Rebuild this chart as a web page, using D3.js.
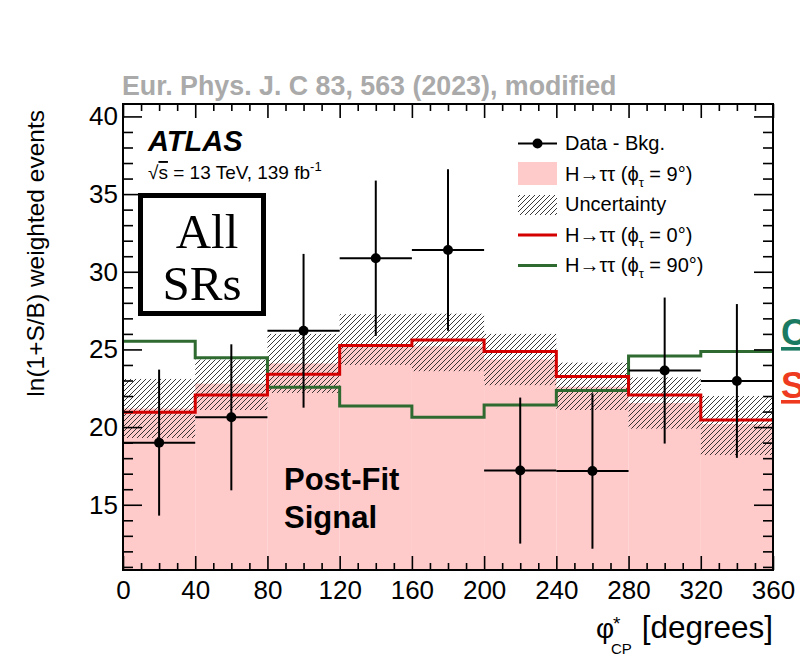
<!DOCTYPE html>
<html>
<head>
<meta charset="utf-8">
<script src="https://cdn.jsdelivr.net/npm/d3@7"></script>
<style>
  body { margin: 0; background: #fff; }
  text { font-family: "Liberation Sans", Arial, Helvetica, sans-serif; }
</style>
</head>
<body>
<script>
'use strict';

// bin edges and centres in phi*_CP (degrees)
let binEdges = [0, 40, 80, 120, 160, 200, 240, 280, 320, 360];
let binCentres = [20, 60, 100, 140, 180, 220, 260, 300, 340];

// post-fit signal (phi_tau = 9 deg), filled
let sigPhi9 = [21.2, 22.8, 24.1, 25.3, 25.2, 24.35, 22.6, 21.55, 20.2];
// uncertainty band
let uncLow = [19.3, 21.1, 22.2, 24.0, 23.6, 22.7, 21.1, 19.9, 18.2];
let uncHigh = [23.1, 24.35, 26.0, 27.27, 27.3, 26.0, 24.15, 23.2, 22.0];
// hypotheses
let sigPhi0 = [20.95, 22.07, 23.4, 25.25, 25.6, 24.86, 23.25, 22.07, 20.46];
let sigPhi90 = [25.53, 24.47, 22.56, 21.36, 20.63, 21.43, 22.35, 24.58, 24.86];
// data - background
let dataVals = [19.0, 20.63, 26.2, 30.87, 31.4, 17.2, 17.17, 23.64, 22.97];
let dataErr = [4.7, 4.7, 4.95, 5.0, 5.2, 4.7, 5.0, 4.7, 4.95];

// axis ticks
let xMajor = [0, 40, 80, 120, 160, 200, 240, 280, 320, 360];
let yMajor = [15, 20, 25, 30, 35, 40];

let frame = { left: 123, right: 773, top: 104, bottom: 570 };

let svg = d3.select("body").append("svg")
  .attr("width", 800)
  .attr("height", 657);

let x = d3.scaleLinear().domain([0, 360]).range([frame.left, frame.right]);
let y = d3.scaleLinear().domain([10.8, 40.8]).range([frame.bottom, frame.top]);

// hatch pattern
let defs = svg.append("defs");
let pat = defs.append("pattern")
  .attr("id", "hatch")
  .attr("patternUnits", "userSpaceOnUse")
  .attr("width", 5).attr("height", 5);
pat.append("path")
  .attr("d", "M0,5 L5,0 M-1,1 L1,-1 M4,6 L6,4")
  .attr("stroke", "#222").attr("stroke-width", 0.9);

// step path helper
function stepPath(vals) {
  let d = "";
  vals.forEach((v, i) => {
    d += (i === 0 ? "M" : "L") + x(binEdges[i]) + "," + y(v) + "L" + x(binEdges[i + 1]) + "," + y(v);
  });
  return d;
}

// title
svg.append("text")
  .attr("x", 122).attr("y", 95)
  .style("font-size", "26.8px").style("font-weight", "bold")
  .attr("fill", "#aaaaaa")
  .text("Eur. Phys. J. C 83, 563 (2023), modified");

// pink filled signal
svg.selectAll(".sig9").data(sigPhi9).enter().append("rect")
  .attr("x", (d, i) => x(binEdges[i]))
  .attr("width", (d, i) => x(binEdges[i + 1]) - x(binEdges[i]))
  .attr("y", d => y(d))
  .attr("height", d => frame.bottom - y(d))
  .attr("fill", "#ffcaca");

// uncertainty hatch
svg.selectAll(".unc").data(uncLow).enter().append("rect")
  .attr("x", (d, i) => x(binEdges[i]))
  .attr("width", (d, i) => x(binEdges[i + 1]) - x(binEdges[i]))
  .attr("y", (d, i) => y(uncHigh[i]))
  .attr("height", (d, i) => y(d) - y(uncHigh[i]))
  .attr("fill", "url(#hatch)");

// hypotheses lines
svg.append("path").attr("d", stepPath(sigPhi90))
  .attr("fill", "none").attr("stroke", "#2f6a31").attr("stroke-width", 3);
svg.append("path").attr("d", stepPath(sigPhi0))
  .attr("fill", "none").attr("stroke", "#d40000").attr("stroke-width", 3);

// data points
let pts = svg.append("g");
binCentres.forEach((c, i) => {
  pts.append("line")
    .attr("x1", x(binEdges[i])).attr("x2", x(binEdges[i + 1]))
    .attr("y1", y(dataVals[i])).attr("y2", y(dataVals[i]))
    .attr("stroke", "#000").attr("stroke-width", 2);
  pts.append("line")
    .attr("x1", x(c)).attr("x2", x(c))
    .attr("y1", y(dataVals[i] - dataErr[i])).attr("y2", y(dataVals[i] + dataErr[i]))
    .attr("stroke", "#000").attr("stroke-width", 2);
  pts.append("circle")
    .attr("cx", x(c)).attr("cy", y(dataVals[i])).attr("r", 5)
    .attr("fill", "#000");
});

// axes (ticks inward)
function styleAxis(g) {
  g.select(".domain").remove();
  g.selectAll("line").attr("stroke", "#000").attr("stroke-width", 1.6);
  g.selectAll("text").style("font-size", "26px").attr("fill", "#000")
    .style("font-family", "'Liberation Sans', Arial, sans-serif");
}
let xMinor = d3.range(0, 361, 10).filter(v => xMajor.indexOf(v) < 0);
let yMinor = d3.range(11, 41, 1).filter(v => yMajor.indexOf(v) < 0);

svg.append("g").attr("transform", "translate(0," + frame.bottom + ")")
  .call(d3.axisBottom(x).tickValues(xMajor).tickSize(-14).tickPadding(11).tickFormat(d3.format("d")))
  .call(styleAxis);
svg.append("g").attr("transform", "translate(0," + frame.bottom + ")")
  .call(d3.axisBottom(x).tickValues(xMinor).tickSize(-7).tickFormat(""))
  .call(styleAxis);
svg.append("g").attr("transform", "translate(0," + frame.top + ")")
  .call(d3.axisTop(x).tickValues(xMajor).tickSize(-14).tickFormat(""))
  .call(styleAxis);
svg.append("g").attr("transform", "translate(0," + frame.top + ")")
  .call(d3.axisTop(x).tickValues(xMinor).tickSize(-7).tickFormat(""))
  .call(styleAxis);

svg.append("g").attr("transform", "translate(" + frame.left + ",0)")
  .call(d3.axisLeft(y).tickValues(yMajor).tickSize(-19).tickPadding(5).tickFormat(d3.format("d")))
  .call(styleAxis);
svg.append("g").attr("transform", "translate(" + frame.left + ",0)")
  .call(d3.axisLeft(y).tickValues(yMinor).tickSize(-10).tickFormat(""))
  .call(styleAxis);
svg.append("g").attr("transform", "translate(" + frame.right + ",0)")
  .call(d3.axisRight(y).tickValues(yMajor).tickSize(-19).tickFormat(""))
  .call(styleAxis);
svg.append("g").attr("transform", "translate(" + frame.right + ",0)")
  .call(d3.axisRight(y).tickValues(yMinor).tickSize(-10).tickFormat(""))
  .call(styleAxis);

// frame
svg.append("rect")
  .attr("x", frame.left).attr("y", frame.top)
  .attr("width", frame.right - frame.left).attr("height", frame.bottom - frame.top)
  .attr("fill", "none").attr("stroke", "#000").attr("stroke-width", 2);

// axis titles
svg.append("text")
  .attr("transform", "translate(44,110) rotate(-90)")
  .style("text-anchor", "end").style("font-size", "24.5px")
  .text("ln(1+S/B) weighted events");

svg.append("text").attr("x", frame.right).attr("y", 638)
  .style("text-anchor", "end").style("font-size", "31.5px").text("[degrees]");
svg.append("text").attr("x", 596).attr("y", 638)
  .style("font-size", "28px").text("φ");
svg.append("text").attr("x", 613).attr("y", 630)
  .style("font-size", "19px").text("*");
svg.append("text").attr("x", 611).attr("y", 654)
  .style("font-size", "15px").text("CP");

// ATLAS label
svg.append("text").attr("x", 148).attr("y", 151)
  .style("font-size", "29px").style("font-weight", "bold").style("font-style", "italic")
  .text("ATLAS");
let lum = svg.append("text").attr("x", 148).attr("y", 179).style("font-size", "19px");
lum.append("tspan").text("√");
lum.append("tspan").style("text-decoration", "overline").text("s");
lum.append("tspan").text(" = 13 TeV, 139 fb");
lum.append("tspan").attr("dy", -8).style("font-size", "13px").text("-1");

// All SRs box
svg.append("rect")
  .attr("x", 140.5).attr("y", 195.5).attr("width", 123).attr("height", 118)
  .attr("fill", "#fff").attr("stroke", "#000").attr("stroke-width", 5);
svg.append("text").attr("x", 207).attr("y", 248)
  .style("text-anchor", "middle").style("font-family", "'Liberation Serif', 'Times New Roman', serif")
  .style("font-size", "49px").text("All");
svg.append("text").attr("x", 202).attr("y", 300)
  .style("text-anchor", "middle").style("font-family", "'Liberation Serif', 'Times New Roman', serif")
  .style("font-size", "49px").text("SRs");

// Post-Fit Signal
svg.append("text").attr("x", 284).attr("y", 490)
  .style("font-size", "31px").style("font-weight", "bold").text("Post-Fit");
svg.append("text").attr("x", 284).attr("y", 528)
  .style("font-size", "31px").style("font-weight", "bold").text("Signal");

// legend
let lx0 = 518, lx1 = 557, ltx = 565;
svg.append("line").attr("x1", lx0).attr("x2", lx1).attr("y1", 143.5).attr("y2", 143.5)
  .attr("stroke", "#000").attr("stroke-width", 2);
svg.append("circle").attr("cx", (lx0 + lx1) / 2).attr("cy", 143.5).attr("r", 5).attr("fill", "#000");
svg.append("rect").attr("x", lx0).attr("y", 162).attr("width", lx1 - lx0).attr("height", 23).attr("fill", "#ffcaca");
svg.append("rect").attr("x", lx0).attr("y", 195).attr("width", lx1 - lx0).attr("height", 20).attr("fill", "url(#hatch)");
svg.append("line").attr("x1", lx0).attr("x2", lx1).attr("y1", 235).attr("y2", 235)
  .attr("stroke", "#d40000").attr("stroke-width", 3);
svg.append("line").attr("x1", lx0).attr("x2", lx1).attr("y1", 265.5).attr("y2", 265.5)
  .attr("stroke", "#2f6a31").attr("stroke-width", 3);

svg.append("text").attr("x", ltx).attr("y", 150).style("font-size", "20px").text("Data - Bkg.");
function hLabel(yy, ang) {
  let t = svg.append("text").attr("x", ltx).attr("y", yy).style("font-size", "20px");
  t.append("tspan").text("H→ττ (ϕ");
  t.append("tspan").attr("dy", 6).style("font-size", "13px").text("τ");
  t.append("tspan").attr("dy", -6).text(" = " + ang + "°)");
}
hLabel(181, 9);
svg.append("text").attr("x", ltx).attr("y", 211).style("font-size", "20px").text("Uncertainty");
hLabel(242, 0);
hLabel(272, 90);

// cut-off labels at the right edge (cropped in the source figure as well)
svg.append("text").attr("x", 781).attr("y", 345)
  .style("font-size", "36px").style("font-weight", "bold")
  .style("text-decoration", "underline").attr("fill", "#1b7a62").text("CP-odd");
svg.append("text").attr("x", 781).attr("y", 398)
  .style("font-size", "36px").style("font-weight", "bold")
  .style("text-decoration", "underline").attr("fill", "#ee3a1e").text("SM");
</script>
</body>
</html>
